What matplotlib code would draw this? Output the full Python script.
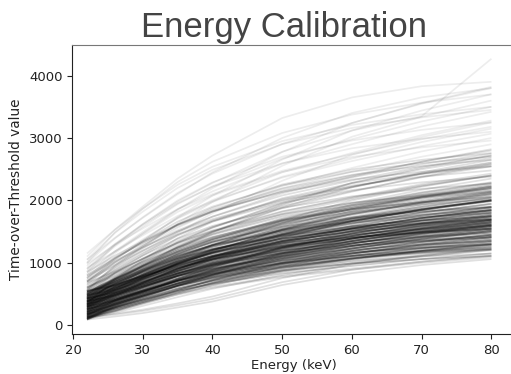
import matplotlib
matplotlib.use("Agg")
import matplotlib.pyplot as plt

# Energy knots (keV) at which each calibration curve is read
energy_kev = [22, 26, 30, 35, 40, 50, 60, 70, 80]

# Time-over-Threshold value of every curve at each energy knot.
# Curve order: 20 low-edge curves, 100 core curves, 30 middle curves, 22 high curves, 20 upper-core curves.
tot_22 = [90, 100, 110, 120, 130, 150, 160, 180, 200, 90, 140, 220, 250, 110, 300, 170, 130, 260, 100, 190,
          95, 120, 105, 130, 100, 115, 90, 125, 110, 135,
          140, 165, 150, 175, 135, 160, 145, 185, 155, 170,
          180, 200, 190, 215, 175, 205, 185, 220, 195, 210,
          225, 245, 230, 260, 215, 240, 235, 255, 220, 250,
          265, 285, 270, 300, 260, 280, 275, 295, 255, 290,
          305, 325, 310, 340, 300, 320, 315, 335, 295, 330,
          345, 370, 355, 385, 340, 365, 350, 380, 335, 375,
          385, 410, 395, 430, 380, 405, 390, 425, 375, 420,
          435, 465, 445, 480, 430, 455, 440, 475, 425, 470,
          495, 530, 505, 550, 490, 520, 500, 545, 485, 540,
          300, 320, 350, 380, 400, 420, 450, 480, 500, 520, 550, 580, 600, 620, 650,
          680, 700, 720, 750, 780, 800, 340, 430, 560, 460, 610, 380, 700, 530, 850,
          1150, 1050, 1000, 900, 850, 800, 750, 700, 900, 650, 1100,
          600, 820, 980, 760, 1000, 870, 700, 950, 1050, 680, 920,
          300, 330, 360, 390, 420, 450, 480, 510, 540, 570, 280, 350, 400, 430, 460, 490, 520, 550, 320, 600]
tot_26 = [140, 200, 250, 170, 285, 330, 260, 335, 400, 230, 250, 400, 450, 220, 480, 340, 185, 400, 270, 290,
          265, 280, 310, 225, 290, 345, 305, 235, 320, 290,
          290, 320, 365, 265, 330, 400, 345, 285, 375, 350,
          345, 360, 390, 315, 370, 425, 400, 325, 385, 460,
          400, 410, 445, 345, 425, 480, 440, 375, 385, 410,
          425, 450, 505, 395, 465, 485, 480, 405, 495, 520,
          480, 490, 510, 425, 505, 545, 520, 465, 550, 560,
          505, 520, 565, 475, 530, 600, 560, 485, 575, 585,
          560, 570, 625, 525, 585, 605, 615, 535, 600, 660,
          610, 635, 675, 565, 620, 690, 650, 595, 665, 640,
          655, 680, 715, 635, 695, 750, 710, 645, 740, 735,
          460, 585, 630, 705, 580, 670, 760, 840, 765, 720, 830, 905, 850, 930, 1010,
          860, 965, 1000, 1075, 1030, 1080, 735, 590, 955, 710, 790, 690, 1060, 795, 1115,
          1530, 1400, 1485, 1265, 1280, 1060, 1085, 1010, 1295, 885, 1530,
          935, 1185, 1290, 1155, 1390, 1180, 960, 1300, 1480, 1045, 1180,
          540, 580, 665, 550, 660, 740, 730, 735, 695, 875, 530, 505, 625, 735, 700, 650, 760, 840, 625, 825]
tot_30 = [195, 310, 370, 230, 415, 470, 370, 465, 550, 350, 370, 540, 600, 340, 620, 480, 250, 520, 410, 400,
          395, 420, 460, 355, 450, 525, 475, 375, 500, 430,
          410, 460, 535, 395, 490, 600, 515, 435, 565, 500,
          475, 500, 540, 455, 530, 605, 580, 475, 555, 670,
          540, 570, 615, 475, 595, 680, 620, 535, 515, 550,
          555, 610, 685, 535, 635, 655, 660, 555, 685, 720,
          620, 650, 660, 555, 675, 725, 700, 635, 750, 760,
          635, 660, 735, 615, 690, 800, 740, 635, 765, 765,
          700, 730, 805, 675, 755, 775, 805, 695, 780, 870,
          750, 805, 855, 705, 780, 890, 830, 765, 855, 790,
          785, 840, 885, 785, 865, 950, 890, 805, 940, 915,
          640, 815, 870, 955, 780, 890, 1020, 1120, 995, 940, 1070, 1155, 1070, 1190, 1290,
          1060, 1195, 1240, 1325, 1250, 1320, 1045, 770, 1265, 930, 990, 950, 1340, 1025, 1345,
          1900, 1720, 1865, 1575, 1620, 1350, 1375, 1270, 1605, 1145, 1870,
          1225, 1495, 1550, 1465, 1730, 1440, 1250, 1620, 1820, 1355, 1470,
          740, 800, 905, 730, 860, 960, 950, 925, 865, 1115, 750, 675, 815, 975, 900, 830, 960, 1060, 865, 1015]
tot_35 = [285, 450, 510, 320, 570, 630, 510, 620, 730, 490, 525, 700, 780, 495, 780, 650, 350, 660, 580, 540,
          550, 590, 640, 525, 630, 735, 670, 560, 710, 590,
          550, 630, 725, 565, 670, 820, 710, 630, 790, 680,
          630, 670, 720, 640, 710, 815, 790, 670, 750, 910,
          710, 750, 805, 645, 790, 900, 830, 740, 670, 710,
          710, 790, 895, 720, 830, 845, 870, 750, 910, 940,
          790, 830, 840, 725, 870, 935, 910, 855, 990, 980,
          790, 830, 925, 800, 870, 1020, 950, 830, 990, 975,
          870, 910, 1015, 870, 950, 965, 1030, 900, 990, 1110,
          920, 1000, 1065, 890, 960, 1110, 1040, 985, 1080, 970,
          940, 1020, 1075, 980, 1060, 1170, 1100, 1010, 1180, 1125,
          875, 1080, 1150, 1245, 1040, 1140, 1330, 1440, 1260, 1225, 1350, 1445, 1320, 1500, 1610,
          1320, 1460, 1520, 1615, 1500, 1600, 1395, 1005, 1615, 1180, 1250, 1260, 1660, 1290, 1610,
          2350, 2100, 2295, 1940, 2000, 1730, 1710, 1580, 1955, 1480, 2250,
          1560, 1860, 1860, 1815, 2120, 1750, 1630, 1980, 2200, 1720, 1850,
          980, 1050, 1175, 965, 1100, 1220, 1200, 1150, 1085, 1385, 1000, 895, 1040, 1245, 1140, 1065, 1200, 1320, 1135, 1240]
tot_40 = [380, 585, 620, 420, 690, 750, 645, 740, 860, 600, 670, 820, 910, 640, 900, 780, 460, 770, 710, 675,
          670, 720, 770, 680, 775, 890, 825, 725, 875, 710,
          660, 760, 870, 720, 815, 990, 865, 810, 965, 810,
          750, 800, 850, 805, 855, 970, 955, 850, 905, 1090,
          840, 895, 950, 800, 945, 1070, 995, 935, 790, 830,
          830, 935, 1050, 885, 985, 990, 1035, 930, 1085, 1110,
          920, 975, 970, 880, 1025, 1090, 1075, 1060, 1175, 1150,
          910, 960, 1070, 965, 1015, 1190, 1115, 1010, 1165, 1130,
          1000, 1055, 1170, 1050, 1105, 1110, 1205, 1095, 1155, 1290,
          1050, 1155, 1220, 1055, 1105, 1280, 1205, 1190, 1255, 1100,
          1060, 1165, 1220, 1160, 1215, 1340, 1265, 1205, 1365, 1280,
          1090, 1290, 1370, 1460, 1280, 1340, 1570, 1680, 1470, 1490, 1570, 1660, 1520, 1740, 1850,
          1560, 1670, 1740, 1830, 1700, 1820, 1660, 1220, 1880, 1380, 1490, 1500, 1900, 1500, 1820,
          2720, 2450, 2620, 2225, 2290, 2075, 1975, 1820, 2220, 1795, 2540,
          1825, 2145, 2100, 2080, 2430, 1990, 1975, 2280, 2490, 2005, 2195,
          1165, 1250, 1380, 1180, 1285, 1410, 1400, 1325, 1290, 1590, 1200, 1100, 1215, 1450, 1325, 1280, 1385, 1510, 1340, 1415]
tot_50 = [645, 805, 790, 690, 880, 920, 865, 930, 1045, 770, 910, 990, 1095, 880, 1070, 985, 755, 940, 915, 895,
          860, 925, 955, 940, 995, 1110, 1060, 1005, 1130, 880,
          830, 965, 1075, 980, 1035, 1230, 1100, 1110, 1240, 995,
          940, 1005, 1035, 1085, 1075, 1190, 1210, 1150, 1140, 1345,
          1045, 1115, 1155, 1060, 1180, 1310, 1250, 1255, 980, 1000,
          1020, 1155, 1270, 1165, 1220, 1195, 1290, 1230, 1360, 1350,
          1125, 1195, 1155, 1140, 1260, 1310, 1330, 1400, 1465, 1390,
          1100, 1165, 1275, 1245, 1235, 1430, 1370, 1310, 1440, 1350,
          1205, 1275, 1390, 1350, 1340, 1315, 1480, 1415, 1410, 1545,
          1255, 1390, 1440, 1335, 1325, 1520, 1460, 1530, 1530, 1285,
          1250, 1385, 1425, 1460, 1450, 1580, 1520, 1525, 1655, 1500,
          1450, 1610, 1710, 1765, 1680, 1645, 1945, 2020, 1790, 1930, 1910, 1965, 1825, 2115, 2190,
          1960, 1990, 2080, 2135, 2005, 2160, 2035, 1580, 2255, 1685, 1890, 1875, 2240, 1820, 2140,
          3320, 3000, 3080, 2670, 2700, 2655, 2380, 2195, 2595, 2315, 2950,
          2230, 2590, 2475, 2455, 2905, 2365, 2555, 2780, 2900, 2450, 2775,
          1455, 1555, 1670, 1540, 1575, 1680, 1705, 1600, 1630, 1880, 1505, 1440, 1490, 1740, 1615, 1640, 1675, 1780, 1630, 1690]
tot_60 = [835, 980, 910, 890, 1010, 1030, 1040, 1060, 1170, 890, 1100, 1100, 1220, 1070, 1180, 1130, 975, 1060, 1060, 1070,
          990, 1070, 1080, 1150, 1150, 1255, 1230, 1230, 1310, 990,
          950, 1110, 1205, 1190, 1190, 1380, 1270, 1350, 1430, 1120,
          1070, 1150, 1160, 1310, 1230, 1335, 1390, 1390, 1310, 1510,
          1190, 1270, 1285, 1270, 1350, 1460, 1430, 1510, 1110, 1110,
          1150, 1310, 1415, 1390, 1390, 1325, 1470, 1470, 1550, 1500,
          1270, 1350, 1280, 1350, 1430, 1455, 1510, 1670, 1670, 1540,
          1230, 1310, 1405, 1470, 1390, 1580, 1550, 1550, 1630, 1495,
          1350, 1430, 1535, 1590, 1510, 1445, 1670, 1670, 1590, 1710,
          1400, 1560, 1585, 1560, 1480, 1670, 1640, 1800, 1720, 1410,
          1380, 1540, 1555, 1700, 1620, 1730, 1700, 1780, 1860, 1645,
          1740, 1840, 1950, 1965, 2000, 1860, 2210, 2240, 2020, 2280, 2150, 2165, 2040, 2380, 2410,
          2280, 2220, 2320, 2335, 2220, 2400, 2275, 1870, 2495, 1900, 2210, 2140, 2460, 2050, 2370,
          3650, 3400, 3375, 2980, 2960, 3120, 2670, 2460, 2835, 2730, 3210,
          2520, 2900, 2740, 2695, 3240, 2630, 3020, 3120, 3160, 2760, 3240,
          1660, 1770, 1855, 1830, 1780, 1860, 1920, 1790, 1900, 2065, 1720, 1710, 1680, 1925, 1820, 1930, 1880, 1960, 1815, 1880]
tot_70 = [965, 1100, 1020, 1020, 1130, 1100, 1160, 1180, 1245, 1000, 1230, 1170, 1295, 1200, 1250, 1260, 1120, 1170, 1190, 1190,
          1110, 1200, 1155, 1295, 1295, 1345, 1385, 1385, 1475, 1060,
          1060, 1240, 1290, 1335, 1335, 1480, 1425, 1515, 1605, 1195,
          1190, 1280, 1235, 1465, 1375, 1425, 1555, 1555, 1465, 1615,
          1320, 1415, 1370, 1415, 1505, 1560, 1595, 1685, 1230, 1180,
          1270, 1455, 1505, 1545, 1545, 1410, 1635, 1635, 1725, 1600,
          1400, 1495, 1355, 1495, 1585, 1545, 1675, 1855, 1855, 1640,
          1350, 1440, 1490, 1625, 1535, 1680, 1715, 1715, 1805, 1585,
          1480, 1575, 1625, 1755, 1665, 1530, 1845, 1845, 1755, 1815,
          1530, 1715, 1675, 1715, 1625, 1770, 1805, 1985, 1895, 1485,
          1500, 1685, 1640, 1865, 1775, 1830, 1865, 1955, 2045, 1735,
          1940, 2050, 2170, 2090, 2220, 2060, 2450, 2380, 2230, 2520, 2370, 2290, 2240, 2620, 2550,
          2500, 2430, 2540, 2460, 2420, 2620, 2430, 2070, 2650, 2100, 2430, 2380, 2600, 2260, 2580,
          3830, 3650, 3565, 3265, 3130, 3440, 2935, 2700, 2990, 3015, 3380,
          2785, 3185, 2980, 2850, 3550, 2870, 3340, 3350, 3330, 3045, 3560,
          1845, 1970, 1975, 2030, 1965, 1970, 2120, 1965, 2085, 2185, 1920, 1895, 1855, 2045, 2005, 2130, 2065, 2070, 1935, 2055]
tot_80 = [1060, 1200, 1110, 1120, 1230, 1150, 1260, 1280, 1300, 1090, 1340, 1220, 1350, 1310, 1300, 1370, 1230, 1260, 1300, 1290,
          1210, 1310, 1210, 1410, 1410, 1410, 1510, 1510, 1610, 1110,
          1150, 1350, 1350, 1450, 1450, 1550, 1550, 1650, 1750, 1250,
          1290, 1390, 1290, 1590, 1490, 1490, 1690, 1690, 1590, 1690,
          1430, 1530, 1430, 1530, 1630, 1630, 1730, 1830, 1330, 1230,
          1370, 1570, 1570, 1670, 1670, 1470, 1770, 1770, 1870, 1670,
          1510, 1610, 1410, 1610, 1710, 1610, 1810, 2010, 2010, 1710,
          1450, 1550, 1550, 1750, 1650, 1750, 1850, 1850, 1950, 1650,
          1590, 1690, 1690, 1890, 1790, 1590, 1990, 1990, 1890, 1890,
          1640, 1840, 1740, 1840, 1740, 1840, 1940, 2140, 2040, 1540,
          1600, 1800, 1700, 2000, 1900, 1900, 2000, 2100, 2200, 1800,
          2100, 2220, 2350, 2180, 2400, 2220, 2650, 2480, 2400, 2720, 2550, 2380, 2400, 2820, 2650,
          2680, 2600, 2720, 2550, 2580, 2800, 2540, 2230, 2760, 2260, 2610, 2580, 2700, 2430, 2750,
          3900, 3800, 3700, 3500, 3250, 3700, 3150, 2900, 3100, 3250, 3500,
          3000, 3420, 3180, 2960, 3800, 3070, 3600, 4270, 3450, 3280, 3820,
          2000, 2130, 2060, 2190, 2120, 2050, 2280, 2110, 2240, 2270, 2080, 2050, 2000, 2130, 2160, 2290, 2220, 2150, 2020, 2200]

# number of curves in each band, in the order above
group_sizes = [20, 100, 30, 22, 20]

# ---- style ----
group_alpha = [0.12, 0.20, 0.12, 0.07, 0.15]
line_width = 1.25

fig = plt.figure(figsize=(5.11, 3.74), dpi=100)
ax = fig.add_axes([0.1415, 0.107, 0.868, 0.7727])

columns = [tot_22, tot_26, tot_30, tot_35, tot_40, tot_50, tot_60, tot_70, tot_80]
n_curves = min(len(c) for c in columns)
idx = 0
for g, size in enumerate(group_sizes):
    for _ in range(size):
        if idx >= n_curves:
            break
        ax.plot(energy_kev, [col[idx] for col in columns], color='black',
                alpha=group_alpha[g], lw=line_width, solid_capstyle='butt',
                solid_joinstyle='round')
        idx += 1

ax.set_xlim(19.9, 83.5)
ax.set_ylim(-140, 4490)
ax.set_xticks([20, 30, 40, 50, 60, 70, 80])
ax.set_yticks([0, 1000, 2000, 3000, 4000])
ax.tick_params(labelsize=9.5, colors='#222222')
ax.set_xlabel('Energy (keV)', fontsize=9.5, color='#222222', labelpad=2)
ax.set_ylabel('Time-over-Threshold value', fontsize=9.8, color='#222222', labelpad=4)
for s in ax.spines.values():
    s.set_color('#222222')
ax.spines['top'].set_color('#777777')

fig.text(0.556, 0.902, 'Energy Calibration', fontsize=25, family='Liberation Sans',
         color='#444444', ha='center', va='baseline')

fig.savefig('out.png', dpi=100)
